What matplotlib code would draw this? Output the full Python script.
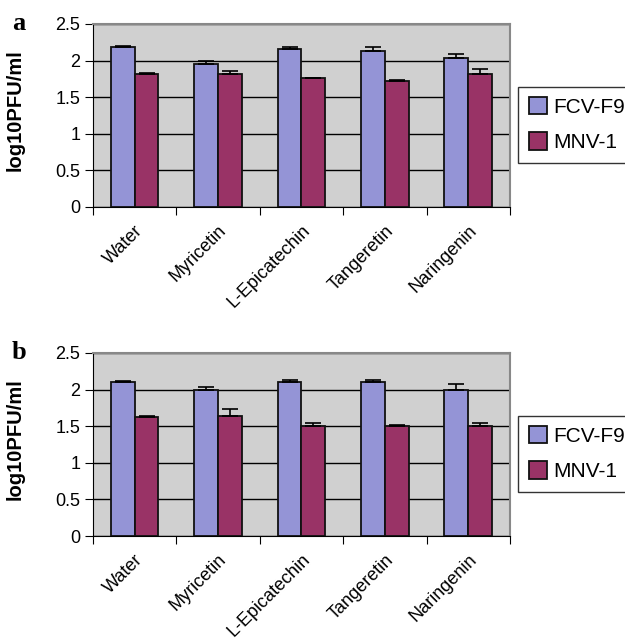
import numpy as np
import matplotlib
matplotlib.use("Agg")
import matplotlib.pyplot as plt

plt.rcParams['font.family'] = ['Liberation Sans', 'DejaVu Sans']

compounds = ["Water", "Myricetin", "L-Epicatechin", "Tangeretin", "Naringenin"]
series = ["FCV-F9", "MNV-1"]

# panel a
fcv_a = [2.18, 1.95, 2.16, 2.13, 2.04]
fcv_a_err = [0.02, 0.04, 0.02, 0.05, 0.05]
mnv_a = [1.81, 1.81, 1.76, 1.72, 1.81]
mnv_a_err = [0.02, 0.05, 0.005, 0.015, 0.07]

# panel b
fcv_b = [2.11, 1.99, 2.11, 2.11, 1.99]
fcv_b_err = [0.003, 0.045, 0.02, 0.02, 0.09]
mnv_b = [1.62, 1.64, 1.50, 1.50, 1.50]
mnv_b_err = [0.02, 0.09, 0.045, 0.02, 0.05]

blue = "#9494d6"
red = "#993366"
bg = "#d0d0d0"


def draw_panel(ax, fcv, fcv_err, mnv, mnv_err, letter):
    x = np.arange(len(compounds))
    w = 0.285
    ekw = dict(elinewidth=1.2, capthick=1.2, ecolor="black")
    ax.bar(x - w / 2, fcv, w, color=blue, edgecolor="#111111", linewidth=1.3,
           yerr=[np.zeros(len(fcv)), fcv_err], capsize=6, error_kw=ekw, label=series[0], zorder=3)
    ax.bar(x + w / 2, mnv, w, color=red, edgecolor="#111111", linewidth=1.3,
           yerr=[np.zeros(len(mnv)), mnv_err], capsize=6, error_kw=ekw, label=series[1], zorder=3)
    ax.set_facecolor(bg)
    ax.set_xlim(-0.5, len(compounds) - 0.5)
    ax.set_ylim(0, 2.5)
    ax.set_yticks([0, 0.5, 1, 1.5, 2, 2.5])
    ax.set_yticklabels(["0", "0.5", "1", "1.5", "2", "2.5"], fontsize=13)
    ax.yaxis.grid(True, color="black", linewidth=1.0, zorder=0)
    ax.set_axisbelow(True)
    # ticks between categories, labels at centres
    ax.set_xticks(np.arange(len(compounds) + 1) - 0.5)
    ax.set_xticklabels([])
    ax.set_xticks(x, minor=True)
    ax.set_xticklabels(compounds, minor=True, rotation=45, ha="right",
                       rotation_mode="anchor", fontsize=13)
    ax.tick_params(axis="x", which="minor", length=0, pad=11)
    ax.tick_params(axis="x", which="major", length=6, direction="out", color="black")
    ax.tick_params(axis="y", length=6, direction="out", pad=3)
    ax.spines["top"].set_color("#888888")
    ax.spines["right"].set_color("#888888")
    ax.spines["top"].set_linewidth(1.5)
    ax.spines["right"].set_linewidth(1.5)
    ax.spines["left"].set_color("black")
    ax.spines["bottom"].set_color("black")
    ax.set_ylabel("log10PFU/ml", fontsize=14.5, fontweight="bold")
    ax.yaxis.set_label_coords(-0.163, 0.53)
    ax.text(-0.195, 1.0, letter, transform=ax.transAxes, fontsize=19,
            fontweight="bold", family="Liberation Serif", va="center", ha="left")
    leg = ax.legend(loc="center left", bbox_to_anchor=(1.0, 0.45), fontsize=15,
                    frameon=True, fancybox=False, edgecolor="black",
                    handlelength=0.9, handleheight=0.9, handletextpad=0.3,
                    borderpad=0.5, labelspacing=0.75, borderaxespad=0.4)
    leg.get_frame().set_linewidth(1.0)


fig = plt.figure(figsize=(6.25, 6.44), dpi=100)
ax1 = fig.add_axes([0.1488, 0.6786, 0.667, 0.2842])
ax2 = fig.add_axes([0.1488, 0.1677, 0.667, 0.2842])
draw_panel(ax1, fcv_a, fcv_a_err, mnv_a, mnv_a_err, "a")
draw_panel(ax2, fcv_b, fcv_b_err, mnv_b, mnv_b_err, "b")

fig.savefig("out.png", dpi=100)
